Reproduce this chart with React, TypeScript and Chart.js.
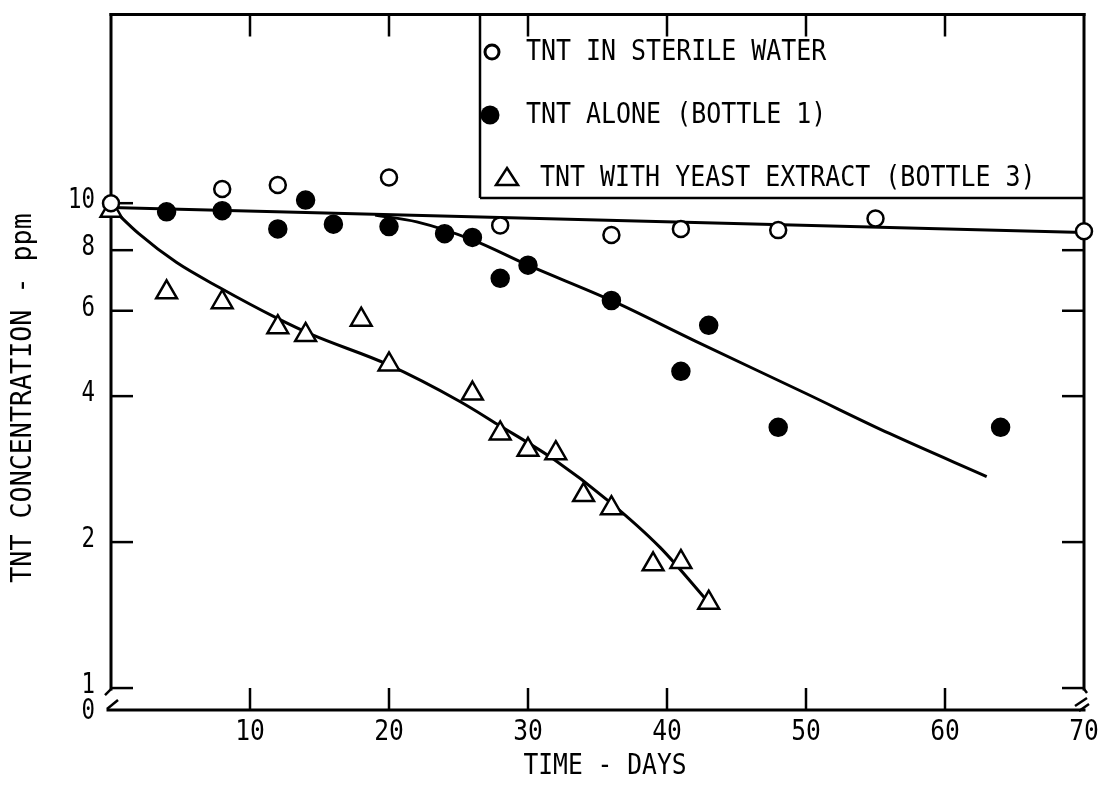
import React, { useEffect, useRef } from 'react';
import { Chart, registerables } from 'chart.js';

Chart.register(...registerables);

// Measured TNT concentrations (ppm) by day
const sterileDays = [0, 8, 12, 20, 28, 36, 41, 48, 55, 70];
const sterileValues = [10.0, 10.7, 10.9, 11.3, 9.0, 8.6, 8.85, 8.8, 9.3, 8.75];

const aloneDays = [4, 8, 12, 14, 16, 20, 24, 26, 28, 30, 36, 41, 43, 48, 64];
const aloneValues = [9.6, 9.65, 8.85, 10.15, 9.05, 8.95, 8.65, 8.5, 7.0, 7.45, 6.3, 4.5, 5.6, 3.45, 3.45];

const yeastDays = [0, 4, 8, 12, 14, 18, 20, 26, 28, 30, 32, 34, 36, 39, 41, 43];
const yeastValues = [9.65, 6.55, 6.25, 5.55, 5.35, 5.75, 4.65, 4.05, 3.35, 3.1, 3.05, 2.5, 2.35, 1.8, 1.82, 1.5];

// Hand-fitted trend curves
const sterileFitDays = [0, 70];
const sterileFitValues = [9.8, 8.7];

const aloneFitDays = [19, 22, 26, 30, 36, 42, 50, 56, 63];
const aloneFitValues = [9.45, 9.15, 8.4, 7.45, 6.3, 5.2, 4.05, 3.35, 2.73];

const yeastFitDays = [0, 2, 4.7, 7.8, 11.9, 14.5, 19.9, 25.1, 27.8, 31.8, 35.8, 39.5, 43];
const yeastFitValues = [9.8, 8.65, 7.55, 6.7, 5.8, 5.35, 4.65, 3.9, 3.5, 2.97, 2.43, 1.95, 1.5];

// Axis ticks
const xTickValues = [10, 20, 30, 40, 50, 60, 70];
const yTickValues = [1, 2, 4, 6, 8, 10];
const yRightTickValues = [1, 2, 4, 6, 8];

const legendLabels = ['TNT IN STERILE WATER', 'TNT ALONE (BOTTLE 1)', 'TNT WITH YEAST EXTRACT (BOTTLE 3)'];

const X_MIN = 0;
const X_MAX = 70;
const Y_MIN = 0.901;
const Y_MAX = 24.5;

const FONT_FAMILY = '"DejaVu Sans Mono", "Liberation Mono", monospace';

const pts = (xs: number[], ys: number[]) => xs.map((x, i) => ({ x, y: ys[i] }));

function drawText(
  ctx: CanvasRenderingContext2D,
  text: string,
  x: number,
  y: number,
  align: 'left' | 'center' | 'right',
  size: number,
  sx: number,
  rotate = 0
) {
  ctx.save();
  ctx.font = `${size}px ${FONT_FAMILY}`;
  ctx.textBaseline = 'middle';
  ctx.textAlign = 'left';
  ctx.fillStyle = '#000';
  const w = ctx.measureText(text).width * sx;
  const off = align === 'left' ? 0 : align === 'center' ? -w / 2 : -w;
  ctx.translate(x, y);
  if (rotate) ctx.rotate(rotate);
  ctx.scale(sx, 1);
  ctx.fillText(text, off / sx, 0);
  ctx.restore();
}

function line(ctx: CanvasRenderingContext2D, x1: number, y1: number, x2: number, y2: number) {
  ctx.beginPath();
  ctx.moveTo(x1, y1);
  ctx.lineTo(x2, y2);
  ctx.stroke();
}

// Frame, broken-axis marks and inward ticks
const framePlugin = {
  id: 'frame',
  beforeDatasetsDraw(chart: any) {
    const ctx: CanvasRenderingContext2D = chart.ctx;
    const { left, right, top, bottom } = chart.chartArea;
    const xs = chart.scales.x;
    const ys = chart.scales.y;
    const breakY = ys.getPixelForValue(1) + 1;
    ctx.save();
    ctx.strokeStyle = '#000';
    ctx.lineCap = 'square';
    ctx.lineWidth = 3;
    line(ctx, left, top, right, top);
    line(ctx, left, top, left, breakY);
    line(ctx, right, top, right, breakY);
    line(ctx, left - 3, bottom, right, bottom);

    ctx.lineWidth = 2.5;
    ctx.lineCap = 'butt';
    // left break
    line(ctx, left, breakY, left - 6, breakY + 6);
    line(ctx, left - 4, bottom - 1, left + 7, bottom - 10);
    // right break
    line(ctx, right, breakY, right + 3, breakY + 4);
    line(ctx, right - 9, bottom - 4, right + 3, bottom - 12);
    line(ctx, right - 5, bottom + 1, right + 5, bottom - 6);

    const tl = 22;
    for (const v of xTickValues) {
      if (v >= X_MAX) continue;
      const px = xs.getPixelForValue(v);
      line(ctx, px, bottom, px, bottom - tl);
      line(ctx, px, top, px, top + tl);
    }
    for (const v of yTickValues) {
      const py = ys.getPixelForValue(v);
      line(ctx, left, py, left + tl, py);
    }
    for (const v of yRightTickValues) {
      const py = ys.getPixelForValue(v);
      line(ctx, right, py, right - tl, py);
    }
    ctx.restore();
  },
  afterDraw(chart: any) {
    const ctx: CanvasRenderingContext2D = chart.ctx;
    const { right, top, bottom } = chart.chartArea;
    const xs = chart.scales.x;
    const ys = chart.scales.y;

    // tick labels
    for (const v of xTickValues) {
      drawText(ctx, String(v), xs.getPixelForValue(v), bottom + 22, 'center', 29, 0.85);
    }
    for (const v of yTickValues) {
      drawText(ctx, String(v), 95, ys.getPixelForValue(v) - 2, 'right', 28, 0.8);
    }
    drawText(ctx, '0', 95, bottom + 2, 'right', 28, 0.8);

    // axis titles
    drawText(ctx, 'TIME - DAYS', 605, 766, 'center', 29, 0.85);
    drawText(ctx, 'TNT CONCENTRATION - ppm', 23, 398, 'center', 29, 0.92, -Math.PI / 2);

    // legend box
    const boxLeft = 480;
    const boxBottom = 198;
    ctx.save();
    ctx.strokeStyle = '#000';
    ctx.lineWidth = 2.5;
    line(ctx, boxLeft, top, boxLeft, boxBottom);
    line(ctx, boxLeft, boxBottom, right, boxBottom);

    const rows = [52, 115, 178];
    // open circle
    ctx.lineWidth = 3;
    ctx.fillStyle = '#fff';
    ctx.beginPath();
    ctx.arc(492, rows[0], 7, 0, Math.PI * 2);
    ctx.fill();
    ctx.stroke();
    // filled circle
    ctx.fillStyle = '#000';
    ctx.beginPath();
    ctx.arc(490, rows[1], 9.5, 0, Math.PI * 2);
    ctx.fill();
    // triangle
    ctx.lineWidth = 2.5;
    ctx.fillStyle = '#fff';
    ctx.beginPath();
    ctx.moveTo(507, rows[2] - 10);
    ctx.lineTo(518, rows[2] + 7);
    ctx.lineTo(496, rows[2] + 7);
    ctx.closePath();
    ctx.fill();
    ctx.stroke();
    ctx.restore();

    drawText(ctx, legendLabels[0], 526, rows[0], 'left', 29, 0.86);
    drawText(ctx, legendLabels[1], 526, rows[1], 'left', 29, 0.86);
    drawText(ctx, legendLabels[2], 540, rows[2], 'left', 29, 0.86);
  },
};

export default function App() {
  const canvasRef = useRef<HTMLCanvasElement | null>(null);

  useEffect(() => {
    const canvas = canvasRef.current;
    if (!canvas) return;
    const pointBase = { showLine: false, clip: false as any, order: 0, pointBorderColor: '#000' };
    const lineBase = {
      pointRadius: 0,
      borderColor: '#000',
      borderWidth: 3,
      fill: false,
      cubicInterpolationMode: 'monotone' as const,
      order: 1,
      clip: false as any,
    };
    const chart = new Chart(canvas, {
      type: 'scatter',
      data: {
        datasets: [
          {
            ...pointBase,
            label: legendLabels[0],
            data: pts(sterileDays, sterileValues),
            pointStyle: 'circle',
            pointRadius: 8,
            pointBackgroundColor: '#fff',
            pointBorderWidth: 2.5,
          },
          {
            ...pointBase,
            label: legendLabels[1],
            data: pts(aloneDays, aloneValues),
            pointStyle: 'circle',
            pointRadius: 9,
            pointBackgroundColor: '#000',
            pointBorderWidth: 1.5,
          },
          {
            ...pointBase,
            label: legendLabels[2],
            data: pts(yeastDays, yeastValues),
            pointStyle: 'triangle',
            pointRadius: 12,
            pointBackgroundColor: '#fff',
            pointBorderWidth: 2.5,
          },
          { ...lineBase, type: 'line', label: 'sterile fit', data: pts(sterileFitDays, sterileFitValues), showLine: true },
          { ...lineBase, type: 'line', label: 'alone fit', data: pts(aloneFitDays, aloneFitValues), showLine: true },
          { ...lineBase, type: 'line', label: 'yeast fit', data: pts(yeastFitDays, yeastFitValues), showLine: true },
        ] as any,
      },
      options: {
        responsive: false,
        animation: false,
        events: [],
        layout: { padding: { left: 111, right: 19, top: 10, bottom: 76 } },
        plugins: { legend: { display: false }, tooltip: { enabled: false } },
        scales: {
          x: { type: 'linear', display: false, min: X_MIN, max: X_MAX },
          y: { type: 'logarithmic', display: false, min: Y_MIN, max: Y_MAX },
        },
      },
      plugins: [framePlugin],
    });
    return () => chart.destroy();
  }, []);

  return (
    <div style={{ position: 'fixed', left: 0, top: 0, width: 1103, height: 786, background: '#fff' }}>
      <canvas ref={canvasRef} width={1103} height={786} style={{ display: 'block' }} />
    </div>
  );
}
